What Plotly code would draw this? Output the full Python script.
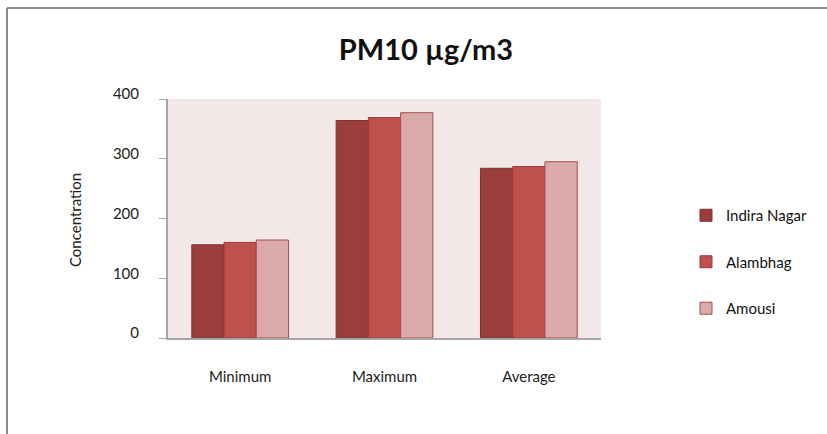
import plotly.graph_objects as go

categories = ["Minimum", "Maximum", "Average"]
indira_nagar = [156, 364, 284]
alambhag = [160, 369, 287]
amousi = [164, 377, 295]
y_ticks = [0, 100, 200, 300, 400]

series = [
    ("Indira Nagar", indira_nagar, "#9B3D3C", "#7E3130"),
    ("Alambhag", alambhag, "#C0504D", "#9B3B38"),
    ("Amousi", amousi, "#DAAAAA", "#A84D4B"),
]

FONT = "Lato, 'Open Sans', sans-serif"

fig = go.Figure()
for i, (name, vals, fill, edge) in enumerate(series):
    fig.add_trace(go.Bar(
        name=name, x=categories, y=vals,
        marker=dict(color=fill, line=dict(color=edge, width=1)),
        legendgroup=f"g{i}",
    ))

# plot-area geometry (pixels)
W, H = 827, 434
L, R, T, B = 168, 601, 99, 338
pw, ph = R - L, B - T

def px(x):
    return (x - L) / pw

def py(y):
    return (B - y) / ph

fig.update_layout(
    width=W, height=H,
    margin=dict(l=L, r=W - R, t=T, b=H - B, autoexpand=False),
    paper_bgcolor="white",
    plot_bgcolor="#F2E8E8",
    barmode="group",
    bargap=0.33,
    bargroupgap=0,
    font=dict(family=FONT, color="#222", size=13),
    title=dict(text="<b>PM10 µg/m3</b>", xref="container", x=426 / W,
               xanchor="center", y=1 - 50 / H, yanchor="middle",
               font=dict(size=29, family=FONT, color="#111")),
    showlegend=True,
    legend=dict(x=px(686), y=py(199), xanchor="left", yanchor="top",
                font=dict(size=15, family=FONT, color="#111"),
                tracegroupgap=24, bgcolor="rgba(0,0,0,0)",
                itemwidth=30),
    xaxis=dict(showline=True, linecolor="#A6A6A6", linewidth=2,
               ticks="", showgrid=False, ticklabelstandoff=24,
               tickfont=dict(size=15, family=FONT, color="#222")),
    yaxis=dict(range=[0, 400], tickvals=y_ticks, showline=True,
               linecolor="#A6A6A6", linewidth=2, ticks="outside",
               ticklen=7, tickcolor="#A6A6A6", tickwidth=1,
               showgrid=False, zeroline=False,
               ticklabelstandoff=17, ticklabelshift=-5,
               tickfont=dict(size=15, family=FONT, color="#222")),
    annotations=[dict(text="Concentration", textangle=-90,
                      x=px(75), y=py(220), xref="paper", yref="paper",
                      xanchor="center", yanchor="middle",
                      showarrow=False, font=dict(size=15, family=FONT, color="#222"))],
    shapes=[
        dict(type="line", xref="paper", yref="paper",
             x0=px(7), x1=px(840), y0=py(8), y1=py(8),
             line=dict(color="#8C8C8C", width=2)),
        dict(type="line", xref="paper", yref="paper",
             x0=px(7), x1=px(7), y0=py(8), y1=py(450),
             line=dict(color="#8C8C8C", width=2)),
    ],
)

fig.write_html("out.html")
